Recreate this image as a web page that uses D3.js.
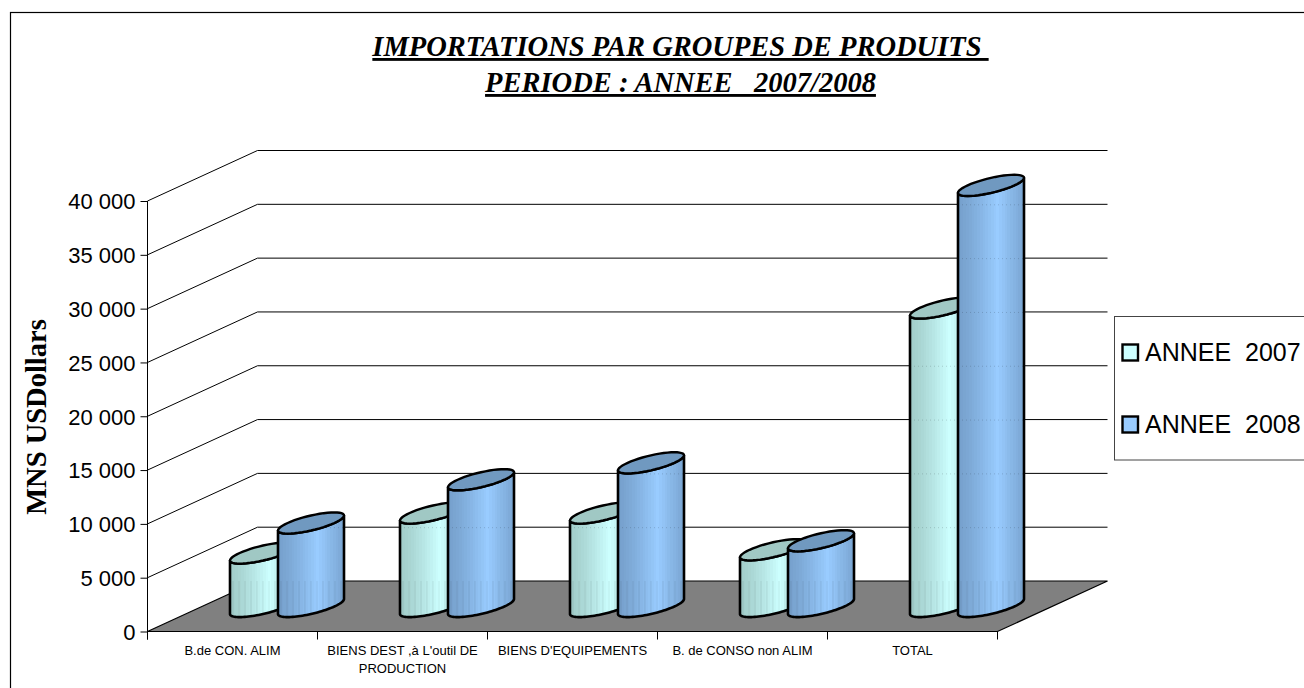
<!DOCTYPE html>
<html lang="fr">
<head>
<meta charset="UTF-8"/>
<title>Importations par groupes de produits</title>
<script src="https://d3js.org/d3.v7.min.js"></script>
<style>
    html, body { margin: 0; padding: 0; background: #fff; overflow: hidden; }
    svg { display: block; }
    text { font-family: "Liberation Sans", Arial, sans-serif; fill: #000; }
    .serif { font-family: "Liberation Serif", "Times New Roman", serif; font-weight: bold; }
</style>
</head>
<body>
<script>
var categories = ["B.de CON. ALIM", "BIENS DEST ,à L'outil DE PRODUCTION", "BIENS D'EQUIPEMENTS", "B. de CONSO non ALIM", "TOTAL"];
var seriesNames = ["ANNEE\u00a0\u00a02007", "ANNEE\u00a0\u00a02008"];
var values2007 = [4970, 8690, 8690, 5270, 27740];
var values2008 = [7760, 11780, 13350, 6110, 39130];
var yTicks = [0, 5000, 10000, 15000, 20000, 25000, 30000, 35000, 40000];

var w = 1304, h = 688;
var x0 = 147.5, x1 = 997.5;
var y0 = 631.5, yTop = 201;
var depthX = 110, depthY = 50.5;   // oblique offset of the back wall
var barW = 66, barOffset = 48, barStart = 82.5;
var baseLift = 17.5;               // bars stand this far up the floor
var capA = barW / 2, capK = 7.5, capB = 7.5;

var palette = [
    { side: "#ccffff", dark: "#a2cdca", cap: "#a0c8c4" },
    { side: "#99ccff", dark: "#76a0cc", cap: "#7099c0" }
];

var svg = d3.select("body").append("svg").attr("width", w).attr("height", h);
var defs = svg.append("defs");

var xScale = d3.scaleBand().domain(categories).range([x0, x1]);
var yScale = d3.scaleLinear().domain([0, 40000]).range([y0, yTop]);

// chart frame, only left and top show inside the window
svg.append("rect").attr("x", 10.5).attr("y", 12.5).attr("width", w + 20).attr("height", h + 20)
    .attr("fill", "#fff").attr("stroke", "#000").attr("stroke-width", 1.2);

/* Title */
var titleLines = ["IMPORTATIONS PAR GROUPES DE PRODUITS\u00a0", "PERIODE : ANNEE \u00a0 2007/2008"];
svg.selectAll("text.title").data(titleLines).enter().append("text")
    .attr("class", "title serif")
    .attr("x", 680.5).attr("y", (d, i) => 56 + i * 36)
    .attr("text-anchor", "middle")
    .attr("font-size", 28.5).attr("font-style", "italic")
    .attr("text-decoration", "underline")
    .text(d => d);

/* Floor */
var floorPts = [[x0, y0], [x1, y0], [x1 + depthX, y0 - depthY], [x0 + depthX, y0 - depthY]];
svg.append("polygon").attr("points", floorPts.join(" ")).attr("fill", "#808080")
    .attr("stroke", "#000").attr("stroke-width", 1.2);

/* Walls */
var grid = svg.append("g").attr("stroke", "#000").attr("stroke-width", 1);
grid.selectAll("line.side").data(yTicks.slice(1)).enter().append("line")
    .attr("x1", x0).attr("x2", x0 + depthX)
    .attr("y1", d => yScale(d)).attr("y2", d => yScale(d) - depthY);
grid.selectAll("line.back").data(yTicks.slice(1)).enter().append("line")
    .attr("x1", x0 + depthX).attr("x2", x1 + depthX)
    .attr("y1", d => yScale(d) - depthY).attr("y2", d => yScale(d) - depthY);

/* Axes */
var yAxis = d3.axisLeft(yScale).tickValues(yTicks).tickSize(7).tickPadding(5)
    .tickFormat(d => d3.format(",")(d).replace(",", " "));
var yG = svg.append("g").attr("transform", "translate(" + x0 + ",0)").call(yAxis);
yG.selectAll("text").attr("font-size", 22).attr("font-family", "Liberation Sans").attr("dy", "0.36em");
yG.selectAll("path,line").attr("stroke", "#000");
yG.select("path").attr("d", "M0," + yTop + "V" + (y0 + 8));

var xAxis = d3.axisBottom(xScale).tickSize(0).tickPadding(0);
var xG = svg.append("g").attr("transform", "translate(0," + y0 + ")").call(xAxis);
xG.select("path").attr("stroke", "#000").attr("d", "M" + x0 + ",0H" + x1);
xG.selectAll("text").attr("font-size", 13).attr("font-family", "Liberation Sans").attr("fill", "#111");

// split long labels on two lines like the spreadsheet does
xG.selectAll(".tick text").each(function (d) {
    var t = d3.select(this).text("");
    var lines = d.length > 24 ? [d.slice(0, d.lastIndexOf(" ")), d.slice(d.lastIndexOf(" ") + 1)] : [d];
    lines.forEach(function (l, i) {
        t.append("tspan").attr("x", 0).attr("y", 23 + i * 18).attr("dy", 0).text(l);
    });
});

svg.append("g").attr("stroke", "#000").selectAll("line")
    .data(d3.range(categories.length + 1)).enter().append("line")
    .attr("x1", i => x0 + i * xScale.bandwidth()).attr("x2", i => x0 + i * xScale.bandwidth())
    .attr("y1", y0).attr("y2", y0 + 8);

/* Bar shading: stepped bands, dark at the edges, brightest right of middle */
function makeGradient(id, c) {
    var mix = d3.interpolateRgb(c.dark, c.side);
    var n = 24;
    var g = defs.append("linearGradient").attr("id", id).attr("x1", 0).attr("x2", 1).attr("y1", 0).attr("y2", 0);
    d3.range(n).forEach(function (i) {
        var u = (i + 0.5) / n;
        var k = u < 0.6 ? Math.pow(u / 0.6, 1.3) : Math.pow((1 - u) / 0.4, 1.1) * 0.85 + 0.15;
        g.append("stop").attr("offset", i / n).attr("stop-color", mix(k));
        g.append("stop").attr("offset", (i + 1) / n).attr("stop-color", mix(k));
    });
}
palette.forEach((c, i) => makeGradient("shade" + i, c));

var line = d3.line();
var angles = d3.range(0, 49).map(i => i / 48);

function ellipsePts(cx, cy, from, to) {
    return angles.map(function (u) {
        var t = (from + (to - from) * u) * Math.PI;
        return [cx + capA * Math.cos(t), cy - capB * Math.sin(t) - capK * Math.cos(t)];
    });
}

/* Bars */
var barData = [];
categories.forEach(function (c, i) {
    [values2007[i], values2008[i]].forEach(function (v, s) {
        barData.push({ cat: c, value: v, s: s, id: i + "_" + s });
    });
});

var bars = svg.append("g").selectAll("g").data(barData).enter().append("g");

bars.each(function (d) {
    var g = d3.select(this);
    var left = xScale(d.cat) + barStart + d.s * barOffset;
    var cx = left + capA;
    // capK: left edge sits capK below the ellipse centre
    var topY = yScale(d.value) - baseLift - capK;
    var botY = y0 - baseLift - capK;
    var bodyPts = [[cx + capA, topY - capK]]
        .concat(ellipsePts(cx, botY, 0, -1))
        .concat(ellipsePts(cx, topY, 1, 2));
    var body = line(bodyPts) + "Z";

    defs.append("clipPath").attr("id", "clip" + d.id).append("path").attr("d", body);
    g.append("path").attr("d", body).attr("fill", "url(#shade" + d.s + ")");

    // faint traces where gridlines and the floor edge sit behind the bar
    var marks = g.append("g").attr("clip-path", "url(#clip" + d.id + ")");
    marks.selectAll("line.dot").data(yTicks.slice(1)).enter().append("line")
        .attr("x1", left).attr("x2", left + barW)
        .attr("y1", v => yScale(v) - depthY + 0.5).attr("y2", v => yScale(v) - depthY + 0.5)
        .attr("stroke", "#000").attr("stroke-opacity", 0.16).attr("stroke-dasharray", "1 3");
    marks.selectAll("line.streak").data(d3.range(3, barW, 6)).enter().append("line")
        .attr("x1", o => left + o).attr("x2", o => left + o)
        .attr("y1", y0 - depthY).attr("y2", y0)
        .attr("stroke", "#000").attr("stroke-opacity", 0.1).attr("stroke-width", 0.8);

    g.append("path").attr("d", body).attr("fill", "none")
        .attr("stroke", "#000").attr("stroke-width", 2.6).attr("stroke-linejoin", "round");
    g.append("path").attr("d", line(ellipsePts(cx, topY, 0, 2)) + "Z")
        .attr("fill", palette[d.s].cap)
        .attr("stroke", "#000").attr("stroke-width", 2.4);
});

/* Y title */
svg.append("text").attr("class", "serif")
    .attr("transform", "translate(46,417) rotate(-90)")
    .attr("text-anchor", "middle").attr("font-size", 28.5)
    .text("MNS USDollars");

/* Legend */
var legend = svg.append("g");
legend.append("rect").attr("x", 1114.5).attr("y", 316.5).attr("width", 200).attr("height", 143.5)
    .attr("fill", "#fff").attr("stroke", "#444").attr("stroke-width", 1);
var items = legend.selectAll("g").data(seriesNames).enter().append("g")
    .attr("transform", (d, i) => "translate(0," + (i * 72) + ")");
items.append("rect").attr("x", 1122.5).attr("y", 344.5).attr("width", 15.5).attr("height", 16)
    .attr("fill", (d, i) => palette[i].side).attr("stroke", "#000").attr("stroke-width", 2.4);
items.append("text").attr("x", 1145).attr("y", 361).attr("font-size", 25).text(d => d);
</script>
</body>
</html>
